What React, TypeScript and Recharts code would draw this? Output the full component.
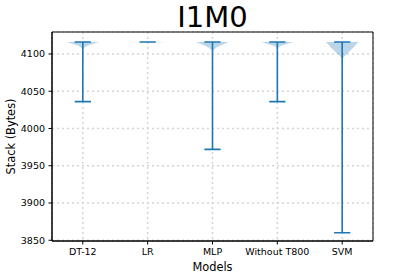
import React from 'react';
import { ComposedChart, Area, Line, XAxis, YAxis, CartesianGrid, ReferenceArea } from 'recharts';

const models = ['DT-12', 'LR', 'MLP', 'Without T800', 'SVM'];
const positions = [1, 2, 3, 4, 5];
const maxValues = [4116, 4116, 4116, 4116, 4116];
const minValues = [4036, 4116, 3972, 4036, 3860];

// violin density profiles (value, relative half-width)
const dtValues = [4116, 4114, 4112.5, 4111, 4109, 4107];
const dtWidths = [1, 0.7, 0.47, 0.28, 0.12, 0.03];
const lrValues = [4116, 4115.8];
const lrWidths = [1, 0.999];
const mlpValues = [4116, 4113.5, 4111, 4109, 4106.5, 4104];
const mlpWidths = [1, 0.72, 0.47, 0.27, 0.11, 0.03];
const wtValues = [4116, 4114.2, 4112.5, 4111, 4109.5, 4108];
const wtWidths = [1, 0.68, 0.43, 0.24, 0.09, 0.02];
const svmValues = [4116, 4112, 4108, 4104, 4100, 4096.5, 4093];
const svmWidths = [1, 0.83, 0.67, 0.47, 0.28, 0.11, 0.03];

const profileValues = [dtValues, lrValues, mlpValues, wtValues, svmValues];
const profileWidths = [dtWidths, lrWidths, mlpWidths, wtWidths, svmWidths];

const yTicks = [3850, 3900, 3950, 4000, 4050, 4100];
const xDomain = [0.525, 5.475];
const yDomain = [3849, 4129.5];

const HALF = 0.25; // violin half width in axis units
const CAP = 0.125; // cap half width in axis units

function violinData(i: number) {
  const p = positions[i];
  const vals = profileValues[i];
  const ws = profileWidths[i];
  const top = vals[0];
  const left = vals.map((v, k) => ({ x: p - HALF * ws[k], range: [v, top] }));
  const right = vals
    .map((v, k) => ({ x: p + HALF * ws[k], range: [v, top] }))
    .reverse();
  return [...left, ...right];
}

const whiskerData: { x: number; y: number | null }[] = [];
positions.forEach((p, i) => {
  const mx = maxValues[i];
  const mn = minValues[i];
  whiskerData.push(
    { x: p - CAP, y: mx },
    { x: p + CAP, y: mx },
    { x: p, y: null },
    { x: p, y: mx },
    { x: p, y: mn },
    { x: p, y: null },
    { x: p - CAP, y: mn },
    { x: p + CAP, y: mn },
    { x: p + CAP, y: null }
  );
});

const FONT = 'DejaVu Sans';
const BLUE = '#1f77b4';

export default function App() {
  return (
    <div style={{ position: 'absolute', left: 0, top: 0 }}>
      <ComposedChart
        width={415}
        height={277}
        margin={{ top: 32, right: 42, left: 0, bottom: 0 }}
      >
        <CartesianGrid stroke="#d4d4d4" strokeWidth={1.5} strokeDasharray="2 3" />
        <XAxis
          dataKey="x"
          type="number"
          domain={xDomain}
          allowDataOverflow
          ticks={positions}
          interval={0}
          tickFormatter={(v: number) => models[Math.round(v) - 1]}
          height={36}
          tickSize={3.5}
          tickMargin={3.5}
          stroke="#000"
          tick={{ fill: '#000', fontSize: 9.5, fontFamily: FONT }}
        />
        <YAxis
          type="number"
          domain={yDomain}
          allowDataOverflow
          ticks={yTicks}
          interval={0}
          width={52}
          tickSize={3.5}
          tickMargin={3.5}
          stroke="#000"
          tick={{ fill: '#000', fontSize: 9.5, fontFamily: FONT }}
        />
        {positions.map((p, i) => (
          <Area
            key={models[i]}
            data={violinData(i)}
            dataKey="range"
            type="linear"
            fill={BLUE}
            fillOpacity={0.3}
            stroke="none"
            isAnimationActive={false}
            activeDot={false}
            dot={false}
          />
        ))}
        <Line
          data={whiskerData}
          dataKey="y"
          type="linear"
          stroke={BLUE}
          strokeWidth={1.6}
          dot={false}
          activeDot={false}
          isAnimationActive={false}
        />
        <ReferenceArea
          x1={xDomain[0]}
          x2={xDomain[1]}
          y1={yDomain[0]}
          y2={yDomain[1]}
          fill="none"
          fillOpacity={0}
          stroke="#000"
          strokeWidth={1}
          ifOverflow="visible"
        />
        <text x={212.5} y={27} textAnchor="middle" fontSize={29} fontFamily={FONT} fill="#000">
          I1M0
        </text>
        <text x={212.5} y={270.5} textAnchor="middle" fontSize={11.4} fontFamily={FONT} fill="#000">
          Models
        </text>
        <text
          x={15}
          y={136.5}
          textAnchor="middle"
          fontSize={11.4}
          fontFamily={FONT}
          fill="#000"
          transform="rotate(-90 15 136.5)"
        >
          Stack (Bytes)
        </text>
      </ComposedChart>
    </div>
  );
}
